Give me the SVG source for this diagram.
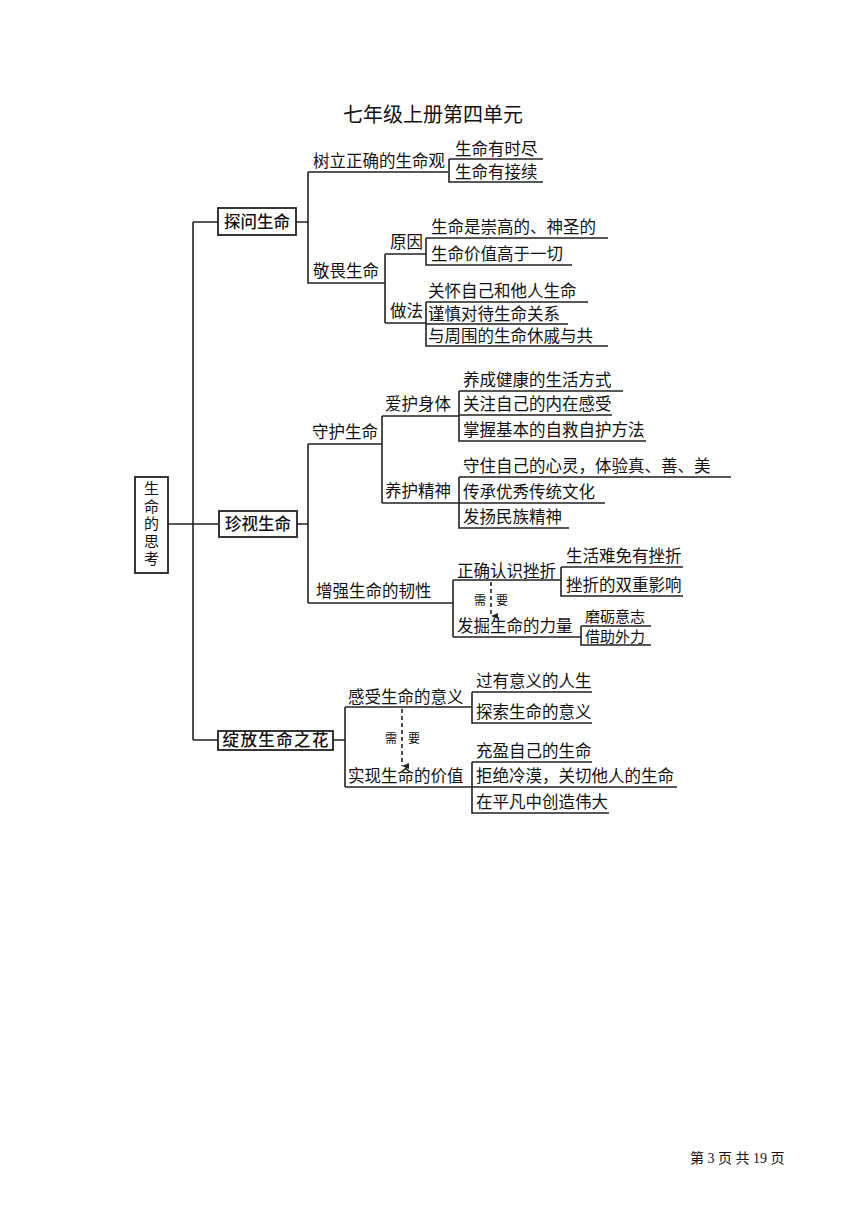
<svg xmlns="http://www.w3.org/2000/svg" width="867" height="1226" viewBox="0 0 867 1226">
<style>
text{font-family:"Noto Sans CJK SC","Noto Sans CJK JP",sans-serif;font-size:16.5px;fill:#111}
.t{font-family:"Liberation Serif","Noto Sans CJK SC",serif;font-size:20px}
.f{font-family:"Liberation Serif","Noto Sans CJK SC",serif;font-size:14px}
.s{font-size:12px}
.m{font-size:15px}
.b{font-weight:500}
line,path{stroke:#222;stroke-width:1.6;fill:none}
.d{stroke-dasharray:4 3}
rect{fill:#fff;stroke:#222;stroke-width:1.8}
</style>
<defs><marker id="a" markerWidth="8" markerHeight="8" refX="4" refY="7" orient="auto-start-reverse" markerUnits="userSpaceOnUse"><path d="M1,0 L4,7 L7,0" style="fill:#222;stroke:none"/></marker></defs>
<rect x="0" y="0" width="867" height="1226" style="fill:#fff;stroke:none"/>
<text class="t" x="433" y="122" text-anchor="middle">七年级上册第四单元</text>
<g id="connectors">
<path d="M168,524 H193 M193,222 V740 M193,222 H218 M193,524 H219 M193,740 H218"/>
<path d="M296,222 H308 M308,172 H448 M308,172 V283 H385 M385,254 V323 M385,254 H426 M385,323 H426"/>
<path d="M449,159 H543 M449,159 V182 H543"/>
<path d="M426,238 H608 M426,238 V265 H572"/>
<path d="M426,302 H588 M426,302 V346 H608 M426,324 H568"/>
<path d="M297,524 H308 M308,444 V603 M308,444 H382 M382,416 V503 M382,416 H459 M382,503 H459"/>
<path d="M459,391 H623 M459,391 V441 H646 M459,415 H612"/>
<path d="M459,477 H731 M459,477 V528 H569 M459,503 H605"/>
<path d="M308,603 H453 M453,580 V637 M453,580 H561 M453,637 H581"/>
<path d="M561,567 H683 M561,567 V596 H683"/>
<path d="M581,626 H651 M581,626 V645 H651"/>
<line class="d" x1="491" y1="582" x2="491" y2="616" marker-end="url(#a)"/>
<path d="M333,740 H345 M345,707 V787 M345,707 H472 M345,787 H472"/>
<path d="M472,692 H592 M472,692 V723 H592"/>
<path d="M472,762 H592 M472,762 V813 H609 M472,787 H677"/>
<line class="d" x1="402" y1="709" x2="402" y2="766" marker-end="url(#a)"/>
</g>
<g id="root"><rect x="135" y="477" width="33" height="96"/>
<text x="151.5" y="481" class="m" style="writing-mode:vertical-rl;letter-spacing:2.5px">生命的思考</text></g>
<g id="n1"><rect x="218" y="208" width="78" height="27"/><text class="b" x="257" y="228" text-anchor="middle">探问生命</text></g>
<g id="n2"><rect x="219" y="511" width="78" height="26"/><text class="b" x="258" y="530" text-anchor="middle">珍视生命</text></g>
<g id="n3"><rect x="218" y="731" width="115" height="19"/><text class="b" x="275.5" y="746" text-anchor="middle" textLength="106">绽放生命之花</text></g>
<g id="labels">
<text x="313" y="167">树立正确的生命观</text>
<text x="455" y="155">生命有时尽</text>
<text x="455" y="178">生命有接续</text>
<text x="313" y="277">敬畏生命</text>
<text x="390" y="248">原因</text>
<text x="431" y="233">生命是崇高的、神圣的</text>
<text x="431" y="260">生命价值高于一切</text>
<text x="390" y="317">做法</text>
<text x="428" y="297">关怀自己和他人生命</text>
<text x="428" y="320">谨慎对待生命关系</text>
<text x="428" y="342">与周围的生命休戚与共</text>
<text x="312" y="438">守护生命</text>
<text x="385" y="410">爱护身体</text>
<text x="463" y="386">养成健康的生活方式</text>
<text x="463" y="410">关注自己的内在感受</text>
<text x="463" y="436">掌握基本的自救自护方法</text>
<text x="385" y="497">养护精神</text>
<text x="463" y="472">守住自己的心灵，体验真、善、美</text>
<text x="463" y="498">传承优秀传统文化</text>
<text x="463" y="523">发扬民族精神</text>
<text x="316" y="597">增强生命的韧性</text>
<text x="457" y="577">正确认识挫折</text>
<text x="566" y="562">生活难免有挫折</text>
<text x="566" y="591">挫折的双重影响</text>
<text class="s" x="474" y="605">需</text>
<text class="s" x="496" y="605">要</text>
<text x="457" y="632">发掘生命的力量</text>
<text class="m" x="585" y="622">磨砺意志</text>
<text class="m" x="585" y="642">借助外力</text>
<text x="348" y="703">感受生命的意义</text>
<text x="476" y="687">过有意义的人生</text>
<text x="476" y="718">探索生命的意义</text>
<text class="s" x="385" y="743">需</text>
<text class="s" x="408" y="743">要</text>
<text x="348" y="782">实现生命的价值</text>
<text x="476" y="757">充盈自己的生命</text>
<text x="476" y="782">拒绝冷漠，关切他人的生命</text>
<text x="476" y="808">在平凡中创造伟大</text>
</g>
<text class="f" x="690" y="1163" xml:space="preserve">第 3 页 共 19 页</text>
</svg>
